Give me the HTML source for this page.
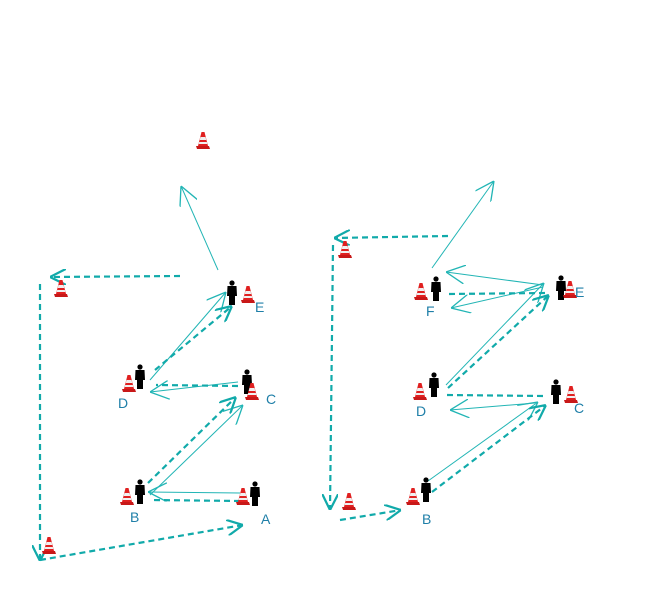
<!DOCTYPE html>
<html><head><meta charset="utf-8"><style>
html,body{margin:0;padding:0;background:#fff;width:650px;height:600px;overflow:hidden}
text{font-family:"Liberation Sans",sans-serif;font-size:14px;fill:#1f7fa8}
</style></head><body>
<svg width="650" height="600" viewBox="0 0 650 600" xmlns="http://www.w3.org/2000/svg">
<defs>
<marker id="as" viewBox="0 0 10 10" refX="10" refY="5" markerUnits="userSpaceOnUse" markerWidth="19" markerHeight="19" orient="auto">
<path d="M0,0 L10,5 L0,10" fill="none" stroke="#22b5b5" stroke-width="0.7"/></marker>
<marker id="ad" viewBox="0 0 10 10" refX="10" refY="5" markerUnits="userSpaceOnUse" markerWidth="16" markerHeight="16" orient="auto">
<path d="M0,0 L10,5 L0,10" fill="none" stroke="#11aaaa" stroke-width="1.4"/></marker>
<g id="cone">
<path d="M-1.5,-9 L1.5,-9 L5,5 L-5,5 Z" fill="#e02020"/>
<path d="M-2.5,-4 L2.5,-4 L3.3,-1 L-3.3,-1 Z" fill="#f0f0f0"/>
<path d="M-3.8,1 L3.8,1 L4.3,3 L-4.3,3 Z" fill="#f0f0f0"/>
<path d="M-7,5 L6,5 L7,8 L-6,8 Z" fill="#c81818"/>
</g>
<g id="man" fill="#000">
<circle cx="0" cy="-10" r="2.6"/>
<path d="M-4.5,-7 L4.5,-7 L5,3 L3,3 L3,12 L-3,12 L-3,3 L-5,3 Z"/>
</g>
</defs>
<g fill="none" stroke="#22b5b5" stroke-width="1">
<line x1="218" y1="270" x2="181" y2="186" marker-end="url(#as)"/>
<line x1="240" y1="493" x2="148" y2="492" marker-end="url(#as)"/>
<line x1="150" y1="495" x2="243" y2="405" marker-end="url(#as)"/>
<line x1="238" y1="382" x2="150" y2="392" marker-end="url(#as)"/>
<line x1="150" y1="380" x2="226" y2="292" marker-end="url(#as)"/>
<line x1="432" y1="268" x2="494" y2="181" marker-end="url(#as)"/>
<line x1="428" y1="481" x2="538" y2="402" marker-end="url(#as)"/>
<line x1="535" y1="403" x2="450" y2="410" marker-end="url(#as)"/>
<line x1="446" y1="385" x2="544" y2="283" marker-end="url(#as)"/>
<line x1="543" y1="285" x2="446" y2="272" marker-end="url(#as)"/>
<line x1="543" y1="287" x2="451" y2="308" marker-end="url(#as)"/>
</g>
<g fill="none" stroke="#11aaaa" stroke-width="2.2" stroke-dasharray="6,4">
<line x1="180" y1="276" x2="50" y2="277" marker-end="url(#ad)"/>
<line x1="40" y1="284" x2="40" y2="561" marker-end="url(#ad)"/>
<line x1="40" y1="560" x2="243" y2="525" marker-end="url(#ad)"/>
<line x1="240" y1="501" x2="150" y2="500"/>
<line x1="148" y1="483" x2="236" y2="397" marker-end="url(#ad)"/>
<line x1="238" y1="386" x2="156" y2="385"/>
<line x1="155" y1="370" x2="232" y2="306" marker-end="url(#ad)"/>
<line x1="448" y1="236" x2="334" y2="238" marker-end="url(#ad)"/>
<line x1="333" y1="245" x2="330" y2="510" marker-end="url(#ad)"/>
<line x1="340" y1="520" x2="401" y2="510" marker-end="url(#ad)"/>
<line x1="432" y1="492" x2="546" y2="405" marker-end="url(#ad)"/>
<line x1="543" y1="396" x2="447" y2="395"/>
<line x1="448" y1="388" x2="549" y2="295" marker-end="url(#ad)"/>
<line x1="545" y1="293" x2="448" y2="294"/>
</g>
<use href="#cone" x="203" y="141"/>
<use href="#cone" x="61" y="289"/>
<use href="#cone" x="49" y="546"/>
<use href="#cone" x="243" y="497"/><use href="#man" x="255" y="494"/>
<use href="#cone" x="127" y="497"/><use href="#man" x="140" y="492"/>
<use href="#man" x="247" y="382"/><use href="#cone" x="252" y="392"/>
<use href="#cone" x="129" y="384"/><use href="#man" x="140" y="377"/>
<use href="#man" x="232" y="293"/><use href="#cone" x="248" y="295"/>
<use href="#cone" x="345" y="250"/>
<use href="#cone" x="349" y="502"/>
<use href="#cone" x="413" y="497"/><use href="#man" x="426" y="490"/>
<use href="#man" x="556" y="392"/><use href="#cone" x="571" y="395"/>
<use href="#cone" x="420" y="392"/><use href="#man" x="434" y="385"/>
<use href="#man" x="561" y="288"/><use href="#cone" x="570" y="290"/>
<use href="#cone" x="421" y="292"/><use href="#man" x="436" y="289"/>
<text x="261" y="524">A</text>
<text x="130" y="522">B</text>
<text x="266" y="404">C</text>
<text x="118" y="408">D</text>
<text x="255" y="312">E</text>
<text x="422" y="524">B</text>
<text x="574" y="413">C</text>
<text x="416" y="416">D</text>
<text x="575" y="297">E</text>
<text x="426" y="316">F</text>
</svg>
</body></html>
